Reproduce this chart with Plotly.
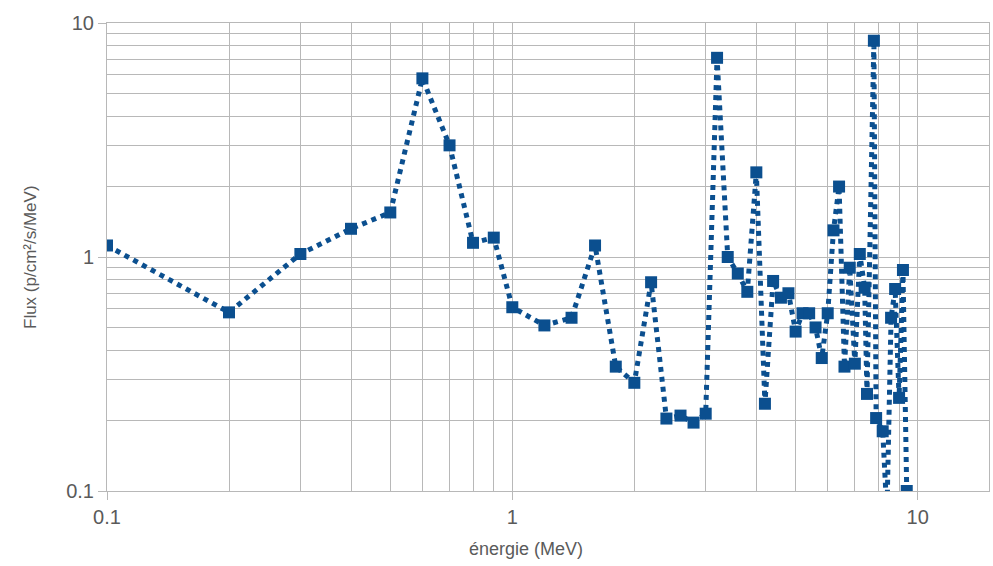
import plotly.graph_objects as go
import numpy as np

energie = [0.1, 0.2, 0.3, 0.4, 0.5, 0.6, 0.7, 0.8, 0.9, 1.0,
           1.2, 1.4, 1.6, 1.8, 2.0, 2.2, 2.4, 2.6, 2.8, 3.0,
           3.2, 3.4, 3.6, 3.8, 4.0, 4.2, 4.4, 4.6, 4.8, 5.0,
           5.2, 5.4, 5.6, 5.8, 6.0, 6.2, 6.4, 6.6, 6.8, 7.0,
           7.2, 7.4, 7.5, 7.8, 7.9, 8.2, 8.4, 8.6, 8.8, 9.0,
           9.2, 9.4]
flux = [1.12, 0.58, 1.03, 1.32, 1.55, 5.8, 3.0, 1.15, 1.21, 0.61,
        0.51, 0.55, 1.12, 0.34, 0.29, 0.78, 0.204, 0.21, 0.196, 0.214,
        7.1, 1.0, 0.85, 0.71, 2.3, 0.236, 0.79, 0.67, 0.70, 0.48,
        0.575, 0.575, 0.50, 0.37, 0.575, 1.3, 2.0, 0.34, 0.9, 0.35,
        1.03, 0.74, 0.26, 8.4, 0.205, 0.18, 0.08, 0.55, 0.73, 0.25,
        0.88, 0.1]

x_major = [0.1, 1, 10]
y_major = [0.1, 1, 10]
x_minor = [m * d for d in (0.1, 1) for m in range(2, 10)]
y_minor = [m * d for d in (0.1, 1) for m in range(2, 10)]

col = "#0b4f8f"
grid = "#b8b8b8"
txt = "#5a5a5a"

L, R, T, B = 107, 4, 23, 75

fig = go.Figure()
fig.add_trace(go.Scatter(
    x=energie, y=flux, mode="lines+markers",
    line=dict(color=col, width=5, dash="dot"),
    marker=dict(symbol="square", size=12, color=col),
    showlegend=False,
))

fig.update_layout(
    width=993, height=566,
    margin=dict(l=L, r=R, t=T, b=B),
    paper_bgcolor="white", plot_bgcolor="white",
    font=dict(family="Liberation Sans, Arial, sans-serif", color=txt),
    xaxis=dict(
        type="log", range=[-1, np.log10(15)],
        tickmode="array", tickvals=x_major, ticktext=["0.1", "1", "10"],
        showgrid=True, gridcolor=grid, gridwidth=1,
        minor=dict(tickmode="array", tickvals=x_minor, showgrid=True, gridcolor=grid, gridwidth=1, ticks=""),
        ticks="outside", ticklen=8, tickcolor=grid,
        showline=True, linecolor=grid, linewidth=1, mirror=True,
        tickfont=dict(size=20, color=txt), zeroline=False,
    ),
    yaxis=dict(
        type="log", range=[-1, 1],
        tickmode="array", tickvals=y_major, ticktext=["0.1", "1", "10"],
        showgrid=True, gridcolor=grid, gridwidth=1,
        minor=dict(tickmode="array", tickvals=y_minor, showgrid=True, gridcolor=grid, gridwidth=1, ticks=""),
        ticks="outside", ticklen=8, tickcolor=grid,
        showline=True, linecolor=grid, linewidth=1, mirror=True,
        tickfont=dict(size=20, color=txt), zeroline=False,
    ),
)
H = 566 - T - B
W = 993 - L - R
fig.add_annotation(text="énergie (MeV)", xref="paper", yref="paper",
                   x=(526 - L) / W, y=-(549 - (566 - B)) / H, xanchor="center", yanchor="middle",
                   showarrow=False, font=dict(size=18, color=txt))
fig.add_annotation(text="Flux (p/cm²/s/MeV)", textangle=-90, showarrow=False,
                   xref="paper", yref="paper", x=-(L - 30) / W, y=1 - (257 - T) / H,
                   xanchor="center", yanchor="middle", font=dict(size=17, color=txt))

fig.write_html("out.html")
